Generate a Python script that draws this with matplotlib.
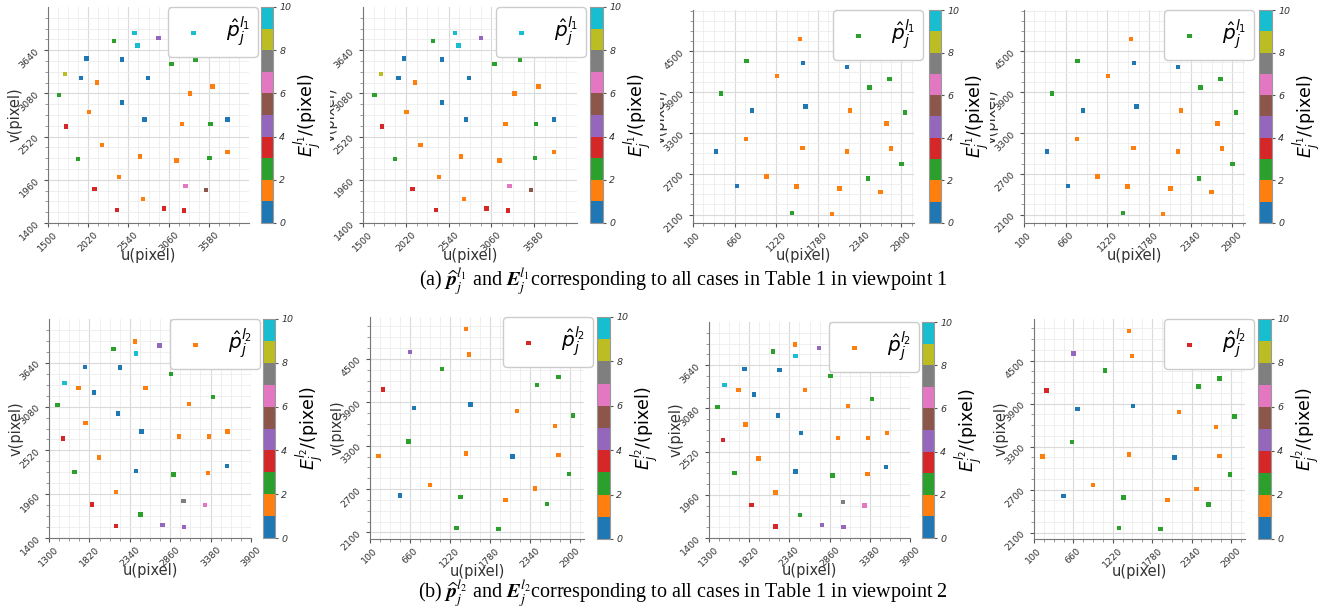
import numpy as np
import matplotlib.pyplot as plt
from matplotlib.transforms import Bbox, TransformedBbox

W, H = 1321, 614

# viewpoint 1, first set of cases (panels 1 and 2)
u_v1a = [2620, 2660, 2930, 2350, 2000, 2460, 3410, 3100, 1720, 1930, 2790, 2130,
         3630, 1640, 3340, 2460, 2030, 2750, 3820, 3230, 3600, 1730, 2200, 3820,
         1890, 2690, 3160, 3590, 2420, 3280, 2100, 3540, 2730, 2390, 3000, 3260]
v_v1a = [3860, 3700, 3800, 3760, 3530, 3520, 3520, 3460, 3330, 3280, 3280, 3220,
         3170, 3060, 3080, 2960, 2840, 2740, 2740, 2680, 2680, 2650, 2410, 2320,
         2230, 2260, 2210, 2240, 2000, 1880, 1840, 1830, 1710, 1570, 1590, 1560]
e_v1a = [9.4, 9.1, 4.6, 2.3, 0.7, 0.8, 2.5, 2.2, 8.3, 0.6, 0.9, 1.4,
         1.7, 2.6, 1.3, 0.5, 1.6, 0.8, 0.4, 1.2, 2.4, 3.5, 1.8, 1.5,
         2.7, 1.1, 1.6, 2.1, 1.9, 6.4, 3.2, 5.3, 1.4, 3.7, 3.3, 3.6]

# viewpoint 1, second set of cases (panels 3 and 4)
u_v1b = [2740, 1540, 2090, 820, 1580, 2170, 1230, 2470, 480, 890, 1610, 2210, 2950, 2700,
         810, 1570, 2170, 2760, 410, 2900, 1090, 2450, 690, 1490, 2070, 2620, 1430, 1970]
v_v1b = [4090, 4680, 4600, 4360, 4330, 4270, 4140, 3970, 3880, 3630, 3690, 3630, 3600, 3440,
         3210, 3080, 3030, 3070, 3030, 2840, 2660, 2630, 2520, 2510, 2480, 2430, 2120, 2110]
e_v1b = [2.4, 1.6, 0.7, 2.2, 0.5, 0.8, 1.3, 2.6, 2.1, 0.6, 0.4, 1.5, 2.3, 1.8,
         1.2, 1.4, 1.7, 1.1, 0.9, 2.5, 1.6, 2.8, 0.3, 1.9, 1.3, 1.5, 2.2, 1.4]

# viewpoint 2, first set of cases (panels 5 and 7)
u_v2a = [2410, 2720, 2130, 2420, 1760, 2210, 3180, 2870, 1500, 1680, 2540, 1880,
         3410, 1410, 3100, 2190, 1770, 2490, 2970, 3360, 3600, 1480, 1940, 3590,
         1630, 2420, 2900, 3350, 2160, 3030, 3310, 1850, 2480, 2760, 2160, 3040]
v_v2a = [3910, 3860, 3820, 3760, 3590, 3580, 3570, 3500, 3380, 3320, 3320, 3260,
         3200, 3100, 3110, 2990, 2870, 2760, 2700, 2700, 2760, 2670, 2430, 2320,
         2240, 2260, 2210, 2230, 1990, 1870, 1820, 1830, 1700, 1570, 1550, 1540]
e_v2a = [1.5, 4.4, 2.3, 9.2, 0.6, 0.8, 2.4, 2.1, 9.5, 1.3, 1.7, 0.5,
         2.6, 2.2, 1.4, 0.7, 1.6, 0.9, 1.2, 1.8, 1.5, 3.4, 1.3, 0.6,
         2.7, 0.4, 2.5, 1.9, 1.2, 7.3, 6.5, 3.6, 2.2, 4.3, 3.3, 4.6]

# viewpoint 2, second set of cases (panels 6 and 8)
u_v2b = [280, 1450, 2040, 660, 1490, 2120, 1110, 2740, 2440, 720, 1510, 2160, 2950, 2690,
         640, 220, 1450, 2100, 2740, 2890, 940, 2410, 520, 1370, 2000, 2580, 1310, 1900]
v_v2b = [4080, 4910, 4810, 4600, 4560, 4460, 4360, 4250, 4140, 3820, 3870, 3780, 3720, 3570,
         3360, 3160, 3190, 3150, 3170, 2910, 2760, 2710, 2610, 2590, 2550, 2490, 2160, 2150]
e_v2b = [3.5, 1.4, 0.6, 4.5, 1.7, 2.3, 2.6, 2.2, 2.4, 0.8, 0.5, 1.3, 2.7, 1.6,
         2.1, 1.2, 1.8, 0.7, 1.5, 2.5, 1.1, 1.9, 0.4, 2.8, 1.3, 2.2, 2.4, 2.6]

captions = [r'(a) $\widehat{\boldsymbol{p}}_j^{l_1}$ and $\boldsymbol{E}_j^{l_1}$corresponding to all cases in Table 1 in viewpoint 1',
            r'(b) $\widehat{\boldsymbol{p}}_j^{l_2}$ and $\boldsymbol{E}_j^{l_2}$corresponding to all cases in Table 1 in viewpoint 2']

fig = plt.figure(figsize=(W / 100, H / 100), dpi=100)


def box(x0, y0, x1, y1):
    return [x0 / W, 1 - y1 / H, (x1 - x0) / W, (y1 - y0) / H]


def panel(axb, cbb, cell_x, u, v, e, xlim, xstep, xt_end, ylim, ystep, yt_start, tag):
    ax = fig.add_axes(box(*axb))
    wpx = axb[2] - axb[0]
    hpx = axb[3] - axb[1]
    sc = ax.scatter(u, v, c=e, cmap='tab10', vmin=0, vmax=10, marker='s', s=10,
                    linewidths=0, zorder=3, label=r'$\hat{p}_j^{%s}$' % tag)
    ax.set_xlim(*xlim)
    ax.set_ylim(*ylim)
    ax.set_xticks(np.arange(xlim[0], xt_end + 1, xstep))
    ax.set_xticks(np.arange(xlim[0], xlim[1], xstep / 4), minor=True)
    ax.set_yticks(np.arange(yt_start, yt_start + 4 * ystep + 1, ystep))
    ym = np.arange(yt_start - ystep, ylim[1], ystep / 4)
    ax.set_yticks(ym[ym >= ylim[0]], minor=True)
    ax.grid(which='major', color='#dadada', lw=0.8)
    ax.grid(which='minor', color='#ececec', lw=0.6)
    ax.set_axisbelow(True)
    for s in ['top', 'right']:
        ax.spines[s].set_visible(False)
    for s in ['left', 'bottom']:
        ax.spines[s].set_color('#777777')
    ax.tick_params(which='major', labelsize=6.8, colors='#555555', labelcolor='#333333',
                   length=3, pad=2)
    ax.tick_params(which='minor', colors='#888888', length=2)
    ax.tick_params(axis='x', labelrotation=45)
    ax.tick_params(axis='y', labelrotation=45)
    ax.set_xlabel('u(pixel)', fontsize=10.5, color='#333333')
    ax.set_ylabel('v(pixel)', fontsize=10.5, color='#333333')
    ax.xaxis.set_label_coords(0.5, -25 / hpx)
    ax.yaxis.set_label_coords(-25 / wpx, 0.5)
    # the source panels were cropped side by side, so labels are cut at the cell edge
    clip = TransformedBbox(Bbox.from_extents(cell_x / W, 0, 1, 1), fig.transFigure)
    ax.yaxis.label.set_clip_box(clip)
    ax.yaxis.label.set_clip_on(True)
    ax.legend(loc='upper right', bbox_to_anchor=(1 + 9 / wpx, 1.0), borderaxespad=0,
              fontsize=14.5, handlelength=1.7, handletextpad=0.75, borderpad=0.4,
              framealpha=1)
    cax = fig.add_axes(box(*cbb))
    cb = fig.colorbar(sc, cax=cax, ticks=[0, 2, 4, 6, 8, 10])
    cb.outline.set_edgecolor('#999999')
    cb.ax.tick_params(labelsize=6.8, length=2, pad=2.5, colors='#555555', labelcolor='#333333')
    for t in cb.ax.get_yticklabels():
        t.set_fontstyle('italic')
    cb.set_label(r'$E_j^{%s}$/(pixel)' % tag, fontsize=12.5, labelpad=0)


# row 1, viewpoint 1
panel((48, 7, 249, 223), (261, 7, 273, 223), 0, u_v1a, v_v1a, e_v1a,
      (1500, 4100), 520, 3580, (1400, 4200), 560, 1400, 'l_1')
panel((363, 7, 577, 223), (590, 7, 603, 223), 330, u_v1a, v_v1a, e_v1a,
      (1500, 4100), 520, 3580, (1400, 4200), 560, 1400, 'l_1')
panel((693, 10, 914, 223), (929, 10, 941, 223), 660, u_v1b, v_v1b, e_v1b,
      (100, 3070), 560, 2900, (1975, 5110), 600, 2100, 'l_1')
panel((1024, 10, 1245, 223), (1259, 10, 1272, 223), 990, u_v1b, v_v1b, e_v1b,
      (100, 3070), 560, 2900, (1975, 5110), 600, 2100, 'l_1')
# row 2, viewpoint 2
panel((49, 319, 251, 538), (263, 319, 275, 538), 0, u_v2a, v_v2a, e_v2a,
      (1300, 3900), 520, 3900, (1400, 4200), 560, 1400, 'l_2')
panel((370, 317, 584, 539), (597, 317, 610, 539), 330, u_v2b, v_v2b, e_v2b,
      (100, 3100), 560, 2900, (2010, 5080), 600, 2100, 'l_2')
panel((709, 322, 910, 538), (922, 322, 934, 538), 660, u_v2a, v_v2a, e_v2a,
      (1300, 3900), 520, 3900, (1400, 4200), 560, 1400, 'l_2')
panel((1034, 319, 1245, 539), (1258, 319, 1271, 539), 990, u_v2b, v_v2b, e_v2b,
      (100, 3100), 560, 2900, (2010, 5080), 600, 2100, 'l_2')

fig.text(683 / W, 1 - 281 / H, captions[0], ha='center', va='center',
         family='Liberation Serif', math_fontfamily='stix', fontsize=14.5)
fig.text(683 / W, 1 - 593 / H, captions[1], ha='center', va='center',
         family='Liberation Serif', math_fontfamily='stix', fontsize=14.5)

fig.savefig('out.png', dpi=100, facecolor='white')
